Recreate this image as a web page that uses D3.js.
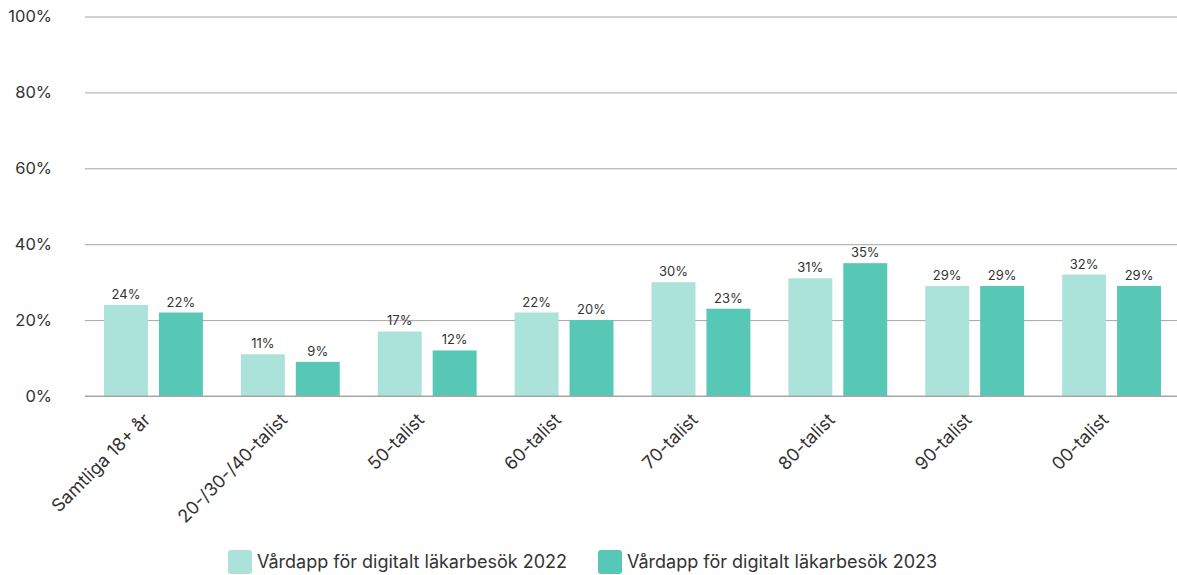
<!DOCTYPE html>
<html><head><meta charset="utf-8">
<script src="https://cdn.jsdelivr.net/npm/d3@7"></script>
<style>body{margin:0;background:#fff}svg{display:block;font-family:Inter,Roboto,"Noto Sans",sans-serif}</style>
</head><body><svg id="c" width="1177" height="575"></svg>
<script>
const categories = ["Samtliga 18+ år","20-/30-/40-talist","50-talist","60-talist","70-talist","80-talist","90-talist","00-talist"];
const seriesNames = ["Vårdapp för digitalt läkarbesök 2022","Vårdapp för digitalt läkarbesök 2023"];
const values2022 = [24,11,17,22,30,31,29,32];
const values2023 = [22,9,12,20,23,35,29,29];
const yTicks = [0,20,40,60,80,100];
const colors = ["#abe3da","#57c8b5"];

const svg = d3.select("#c");
const x0 = d3.scaleBand().domain(categories).range([85,1180]).paddingInner(0).paddingOuter(0);
const x1 = d3.scaleBand().domain([0,1]).range([19, x0.bandwidth()-19]).paddingInner(0.2);
const y = d3.scaleLinear().domain([0,100]).range([396,16.5]);

// grid
const yAxis = d3.axisLeft(y).tickValues(yTicks).tickFormat(d=>d+"%").tickSize(-(1180-85)).tickPadding(33);
const ga = svg.append("g").attr("transform","translate(85,0)").call(yAxis);
ga.select(".domain").remove();
ga.selectAll(".tick line").attr("stroke","#a6a6a6").attr("stroke-width",1);
ga.selectAll(".tick text").attr("fill","#333").attr("font-size",16.5).attr("font-family","Inter");

const series = [values2022, values2023];
const groups = svg.append("g").selectAll("g").data(categories).join("g")
  .attr("transform", d=>`translate(${x0(d)},0)`);
groups.selectAll("rect").data((d,i)=>series.map((s,k)=>({k, v:s[i]}))).join("rect")
  .attr("x", d=>x1(d.k)).attr("width", x1.bandwidth())
  .attr("y", d=>y(d.v)).attr("height", d=>y(0)-y(d.v))
  .attr("fill", d=>colors[d.k]);
groups.selectAll("text").data((d,i)=>series.map((s,k)=>({k, v:s[i]}))).join("text")
  .attr("x", d=>x1(d.k)+x1.bandwidth()/2).attr("y", d=>y(d.v)-6)
  .attr("text-anchor","middle").attr("font-size",13).attr("fill","#333")
  .text(d=>d.v+"%");

// baseline
svg.append("line").attr("x1",85).attr("x2",1180).attr("y1",y(0)).attr("y2",y(0)).attr("stroke","#a6a6a6");

// x labels
const xAxis = d3.axisBottom(x0).tickSize(0).tickPadding(0);
const gx = svg.append("g").attr("transform",`translate(0,${y(0)})`).call(xAxis);
gx.select(".domain").remove();
gx.selectAll(".tick text").attr("font-size",18).attr("fill","#333").attr("font-family","Inter")
  .attr("text-anchor","end").attr("dy",0).attr("y",0)
  .attr("transform","translate(-2,25) rotate(-45)");

// legend
const leg = svg.append("g");
const lx = [228, 598];
seriesNames.forEach((n,i)=>{
  leg.append("rect").attr("x",lx[i]).attr("y",550).attr("width",24).attr("height",24).attr("rx",3).attr("fill",colors[i]);
  leg.append("text").attr("x",lx[i]+29).attr("y",568).attr("font-size",18).attr("fill","#333").text(n);
});
</script></body></html>
